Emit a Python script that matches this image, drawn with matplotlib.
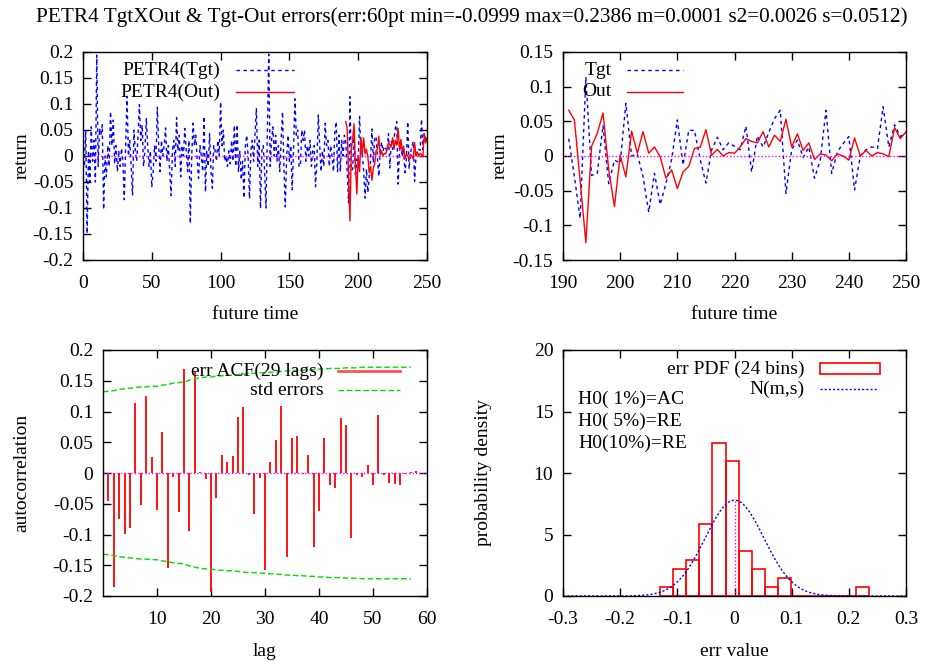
import matplotlib
matplotlib.use("Agg")
import matplotlib.pyplot as plt
import numpy as np

plt.rcParams["font.family"] = ["Liberation Serif", "DejaVu Serif"]
plt.rcParams["font.size"] = 14

BLUE = "#0000ff"
RED = "#ff0000"
GREEN = "#00dd00"
MAGENTA = "#ff00ff"
DASH = (0, (2.5, 2.5))

TITLE = ("PETR4 TgtXOut & Tgt-Out errors(err:60pt min=-0.0999 max=0.2386 "
         "m=0.0001 s2=0.0026 s=0.0512)")

# target returns, t = 0..190 (before the forecast window)
tgt_early = [
    0.03, -0.02, 0.05, -0.149, 0.01, -0.05, 0.056, -0.01, 0.03, -0.05,
    0.194, -0.02, 0.053, 0.04, 0.06, -0.103, 0.0, -0.04, 0.02, -0.02,
    0.085, 0.02, 0.069, -0.015, 0.02, -0.03, 0.01, -0.02, 0.015, -0.01,
    -0.084, 0.02, 0.115, 0.0, 0.03, -0.02, -0.076, 0.05, 0.01, -0.01,
    0.04, 0.099, 0.03, 0.06, -0.02, 0.01, 0.073, 0.02, -0.02, 0.01,
    -0.06, -0.03, 0.02, -0.01, 0.094, 0.02, -0.03, 0.03, 0.0, 0.02,
    0.054, -0.01, 0.02, -0.03, -0.076, 0.01, 0.03, -0.02, 0.074, 0.01,
    0.04, -0.04, 0.02, 0.0, 0.053, 0.01, -0.03, 0.03, -0.13, 0.0,
    0.063, 0.02, 0.04, -0.01, -0.043, 0.02, 0.0, -0.03, 0.076, -0.069,
    0.01, -0.02, 0.043, -0.03, -0.062, 0.02, 0.01, -0.01, 0.03, 0.0,
    0.104, 0.02, 0.05, -0.01, 0.0, -0.02, 0.01, -0.015, 0.03, -0.01,
    0.059, -0.02, 0.06, -0.03, 0.01, -0.046, -0.01, -0.081, 0.02, 0.04,
    0.0, -0.082, 0.01, 0.03, -0.01, 0.04, 0.092, -0.02, 0.03, -0.101,
    0.01, 0.02, -0.03, -0.1, 0.05, 0.196, -0.02, 0.03, 0.056, 0.0,
    0.04, -0.01, 0.02, -0.03, 0.03, 0.085, -0.02, -0.098, 0.0, 0.04,
    -0.01, 0.02, -0.065, 0.01, 0.11, 0.04, 0.05, -0.02, -0.02, 0.05,
    0.03, 0.05, -0.01, 0.02, 0.0, 0.03, -0.02, 0.01, 0.02, -0.059,
    -0.01, 0.079, 0.02, -0.03, 0.01, -0.02, 0.063, 0.02, 0.03, -0.02,
    0.02, 0.0, -0.03, 0.045, 0.066, -0.03, 0.04, -0.03, 0.03, 0.0,
    0.04,
]

# forecast window t = 191..250
tgt_window = [
    0.025, -0.03, -0.09, 0.114, -0.028, -0.025, 0.044, -0.04, -0.006, -0.01,
    0.076, 0.0, 0.003, -0.03, -0.081, -0.025, -0.07, -0.04, -0.005, 0.052,
    -0.013, 0.037, 0.037, -0.005, -0.039, 0.009, 0.027, 0.009, 0.019, 0.014,
    0.009, 0.043, -0.023, 0.029, 0.013, 0.034, 0.054, 0.066, -0.054, 0.009,
    0.023, -0.002, 0.013, -0.032, -0.006, 0.066, -0.025, 0.006, 0.018, 0.028,
    -0.049, 0.0, 0.009, 0.013, 0.011, 0.071, 0.013, 0.045, 0.028, 0.034,
]
out_window = [
    0.066, 0.052, -0.036, -0.125, 0.014, 0.033, 0.062, -0.02, -0.073, 0.001,
    -0.03, 0.036, 0.004, 0.035, 0.004, 0.013, -0.001, -0.032, -0.02, -0.047,
    -0.023, -0.015, 0.011, 0.0125, 0.038, 0.001, 0.0096, 0.0, 0.005, 0.004,
    0.013, 0.025, 0.021, 0.019, 0.035, 0.013, 0.03, 0.021, 0.053, 0.013,
    0.032, 0.008, 0.019, -0.005, 0.003, 0.0015, -0.007, 0.003, 0.0, -0.006,
    0.026, 0.0, 0.008, 0.0, 0.005, 0.003, -0.001, 0.041, 0.025, 0.035,
]

# error autocorrelation, lags 1..58
acf = [
    -0.0455, -0.185, -0.075, -0.0997, -0.09, 0.114, -0.0515, 0.126, 0.0266, -0.06,
    0.0667, -0.155, -0.006, -0.064, 0.1686, -0.094, 0.165, 0.001, -0.009, -0.193,
    -0.041, 0.03, 0.018, 0.027, 0.0916, 0.108, -0.004, -0.067, -0.0076, -0.158,
    0.018, 0.054, 0.109, -0.137, 0.057, 0.06, -0.001, 0.03, -0.12, -0.061,
    0.057, -0.0195, -0.024, 0.089, 0.0786, -0.105, -0.003, -0.0065, 0.013, -0.02,
    0.094, -0.004, -0.017, -0.018, -0.02, -0.002, 0.002, 0.004,
]
# standard error band, lags 0..57
acf_stderr = [
    0.132, 0.133, 0.134, 0.136, 0.137, 0.138, 0.139, 0.140, 0.140, 0.141,
    0.141, 0.143, 0.144, 0.146, 0.147, 0.148, 0.151, 0.153, 0.155, 0.156,
    0.156, 0.158, 0.158, 0.159, 0.159, 0.160, 0.161, 0.162, 0.162, 0.163,
    0.163, 0.164, 0.164, 0.165, 0.166, 0.166, 0.167, 0.167, 0.168, 0.168,
    0.169, 0.169, 0.170, 0.170, 0.170, 0.171, 0.171, 0.171, 0.172, 0.172,
    0.172, 0.172, 0.172, 0.172, 0.172, 0.172, 0.172, 0.172,
]

# error histogram
hist_counts = [1, 3, 4, 8, 17, 15, 5, 3, 1, 2, 0, 0, 0, 0, 0, 1]
hist_left = -0.1297
hist_width = 0.0228
err_n = 60
err_mean = 0.0001
err_std = 0.0512

H0_LINES = ["H0( 1%)=AC", "H0( 5%)=RE", "H0(10%)=RE"]


def _gp_axes(ax):
    for sp in ax.spines.values():
        sp.set_linewidth(1.0)
    ax.tick_params(direction="in", top=True, right=True, length=6, width=1.0,
                   labelsize=14)
    ax.tick_params(axis="y", pad=7)
    ax.tick_params(axis="x", pad=11)


def _key_line(ax, x0, x1, y, label, **kw):
    ax.plot([x0, x1], [y, y], transform=ax.transAxes, clip_on=False, **kw)
    ax.text(x0 - 0.045, y, label, transform=ax.transAxes, ha="right",
            va="center", fontsize=14)


fig = plt.figure(figsize=(9.25, 6.62), dpi=100)
W, H = 925.0, 662.0


def _axes(l, t, r, b):
    return fig.add_axes([l / W, 1 - b / H, (r - l) / W, (b - t) / H])


ax1 = _axes(83, 52, 427, 260)
ax2 = _axes(563, 52, 906, 260)
ax3 = _axes(103, 350, 427, 596)
ax4 = _axes(563, 350, 906, 596)

tgt_all = np.array(tgt_early + tgt_window)
t_all = np.arange(len(tgt_all))
t_win = np.arange(191, 191 + len(out_window))
out_arr = np.array(out_window)

# panel 1: whole series
ax1.plot(t_all, tgt_all, color=BLUE, lw=1.0, linestyle=DASH)
ax1.plot(t_win, out_arr, color=RED, lw=1.0)
ax1.axhline(0, color=MAGENTA, lw=1.0, linestyle=(0, (1, 1.5)))
ax1.set_xlim(0, 250)
ax1.set_ylim(-0.2, 0.2)
ax1.set_xticks([0, 50, 100, 150, 200, 250])
ax1.set_yticks(np.linspace(-0.2, 0.2, 9),
               ["-0.2", "-0.15", "-0.1", "-0.05", "0", "0.05", "0.1", "0.15", "0.2"])
_key_line(ax1, 0.445, 0.613, 0.913, "PETR4(Tgt)", color=BLUE, lw=1.0,
          linestyle=DASH)
_key_line(ax1, 0.445, 0.613, 0.808, "PETR4(Out)", color=RED, lw=1.0)
ax1.set_xlabel("future time", va="center")
ax1.set_ylabel("return", va="center")
ax1.xaxis.set_label_coords(0.5, -0.26)
ax1.yaxis.set_label_coords(-0.177, 0.5)

# panel 2: forecast window
ax2.plot(t_win, np.array(tgt_window), color=BLUE, lw=1.0, linestyle=DASH)
ax2.plot(t_win, out_arr, color=RED, lw=1.0)
ax2.axhline(0, color=MAGENTA, lw=1.0, linestyle=(0, (1, 1.5)))
ax2.set_xlim(190, 250)
ax2.set_ylim(-0.15, 0.15)
ax2.set_xticks([190, 200, 210, 220, 230, 240, 250])
ax2.set_yticks(np.linspace(-0.15, 0.15, 7),
               ["-0.15", "-0.1", "-0.05", "0", "0.05", "0.1", "0.15"])
_key_line(ax2, 0.187, 0.35, 0.913, "Tgt", color=BLUE, lw=1.0, linestyle=DASH)
_key_line(ax2, 0.187, 0.35, 0.808, "Out", color=RED, lw=1.0)
ax2.set_xlabel("future time", va="center")
ax2.set_ylabel("return", va="center")
ax2.xaxis.set_label_coords(0.5, -0.26)
ax2.yaxis.set_label_coords(-0.184, 0.5)

# panel 3: ACF of errors
lags = np.arange(1, len(acf) + 1)
se_lags = np.arange(len(acf_stderr))
se = np.array(acf_stderr)
ax3.vlines(lags, 0, acf, color=RED, lw=1.3)
ax3.plot(se_lags, se, color=GREEN, lw=1.0, linestyle=(0, (4, 2)))
ax3.plot(se_lags, -se, color=GREEN, lw=1.0, linestyle=(0, (4, 2)))
ax3.axhline(0, color=MAGENTA, lw=1.0, linestyle=(0, (1, 1.5)))
ax3.set_xlim(0, 60)
ax3.set_ylim(-0.2, 0.2)
ax3.set_xticks([10, 20, 30, 40, 50, 60])
ax3.set_yticks(np.linspace(-0.2, 0.2, 9),
               ["-0.2", "-0.15", "-0.1", "-0.05", "0", "0.05", "0.1", "0.15", "0.2"])
_key_line(ax3, 0.725, 0.917, 0.915, "err ACF(29 lags)", color="#ff5050", lw=2.0)
_key_line(ax3, 0.725, 0.917, 0.837, "std errors", color=GREEN, lw=1.0,
          linestyle=(0, (4, 2)))
ax3.set_xlabel("lag", va="center")
ax3.set_ylabel("autocorrelation", va="center")
ax3.xaxis.set_label_coords(0.5, -0.224)
ax3.yaxis.set_label_coords(-0.25, 0.5)

# panel 4: error PDF
counts = np.array(hist_counts)
lefts = hist_left + hist_width * np.arange(len(counts))
density = counts / (err_n * hist_width)
ax4.bar(lefts, density, width=hist_width, align="edge", fill=False,
        edgecolor=RED, lw=1.2)
xs = np.linspace(-0.3, 0.3, 241)
pdf = np.exp(-0.5 * ((xs - err_mean) / err_std) ** 2) / (err_std * np.sqrt(2 * np.pi))
ax4.plot(xs, pdf, color=BLUE, lw=1.0, linestyle=(0, (1.5, 1.5)))
ax4.vlines(err_mean, 0, pdf.max(), color=MAGENTA, lw=1.0, linestyle=(0, (1, 1.5)))
ax4.set_xlim(-0.3, 0.3)
ax4.set_ylim(0, 20)
ax4.set_xticks(np.linspace(-0.3, 0.3, 7),
               ["-0.3", "-0.2", "-0.1", "0", "0.1", "0.2", "0.3"])
ax4.set_yticks([0, 5, 10, 15, 20])
ax4.add_patch(plt.Rectangle((0.749, 0.902), 0.175, 0.045, transform=ax4.transAxes,
                            fill=False, edgecolor=RED, lw=1.2, clip_on=False))
ax4.text(0.704, 0.923, "err PDF (24 bins)", transform=ax4.transAxes,
         ha="right", va="center", fontsize=14)
_key_line(ax4, 0.749, 0.915, 0.841, "N(m,s)", color=BLUE, lw=1.0,
          linestyle=(0, (1.5, 1.5)))
for i, line in enumerate(H0_LINES):
    ax4.text(0.044, 0.801 - i * 0.0895, line, transform=ax4.transAxes,
             ha="left", va="center", fontsize=14)
ax4.set_xlabel("err value", va="center")
ax4.set_ylabel("probability density", va="center")
ax4.xaxis.set_label_coords(0.5, -0.224)
ax4.yaxis.set_label_coords(-0.233, 0.5)

for ax in (ax1, ax2, ax3, ax4):
    _gp_axes(ax)

fig.text(472 / W, 1 - 17 / H, TITLE, ha="center", va="center", fontsize=15.3)

fig.savefig("out.png", dpi=100, facecolor="white")
